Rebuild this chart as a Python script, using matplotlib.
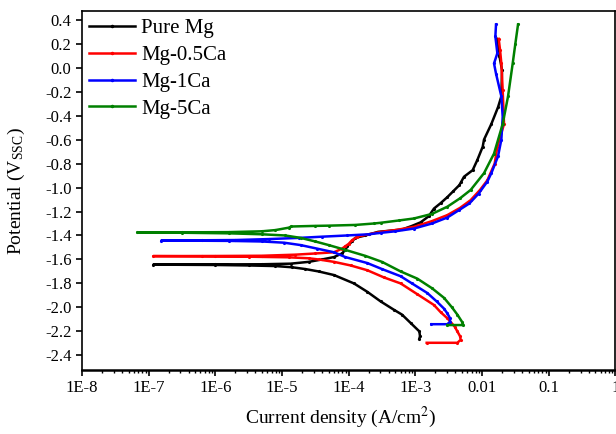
import numpy as np
import matplotlib
matplotlib.use("Agg")
import matplotlib.pyplot as plt
from matplotlib.ticker import FixedLocator, FixedFormatter, LogLocator, NullFormatter

plt.rcParams['font.family'] = ['Liberation Serif', 'DejaVu Serif']
plt.rcParams['mathtext.fontset'] = 'stix'

# Data: potential (V) and log10 of current density (A/cm2)
pure_V = [-2.26, -2.24, -2.20, -2.13, -2.06, -2.02, -1.95, -1.87, -1.80, -1.73, -1.70, -1.68, -1.665,
          -1.655, -1.65, -1.646, -1.643,
          -1.641, -1.640, -1.635, -1.62, -1.60, -1.58, -1.55, -1.52, -1.49, -1.45, -1.42, -1.40, -1.37,
          -1.35, -1.32, -1.29, -1.24, -1.175, -1.13, -1.08, -1.03, -0.98, -0.95, -0.91, -0.855, -0.77,
          -0.66, -0.60, -0.47, -0.33, -0.24, -0.02, 0.10, 0.24]
pure_logI = [-2.94, -2.93, -2.94, -3.07, -3.20, -3.32, -3.52, -3.72, -3.92, -4.22, -4.45, -4.65, -4.85,
             -5.1, -5.5, -6.0, -6.93,
             -6.0, -5.3, -4.87, -4.6, -4.4, -4.22, -4.1, -4.05, -4.02, -3.95, -3.9, -3.75, -3.56,
             -3.2, -3.05, -2.92, -2.8, -2.72, -2.62, -2.52, -2.43, -2.34, -2.31, -2.27, -2.14, -2.07,
             -1.99, -1.97, -1.86, -1.76, -1.71, -1.70, -1.74, -1.78]

ca05_V = [-2.295, -2.295, -2.27, -2.24, -2.20, -2.16, -2.09, -2.04, -1.98, -1.89, -1.80, -1.75, -1.69,
          -1.65, -1.62, -1.60, -1.59, -1.582, -1.577, -1.574, -1.572,
          -1.571, -1.569, -1.56, -1.55, -1.54, -1.51, -1.49, -1.47, -1.44, -1.41, -1.39, -1.37, -1.355,
          -1.328, -1.28, -1.23, -1.17, -1.105, -1.02, -0.94, -0.80, -0.66, -0.47, -0.19, 0.035, 0.15, 0.24]
ca05_logI = [-2.83, -2.37, -2.32, -2.33, -2.37, -2.41, -2.52, -2.62, -2.72, -2.97, -3.22, -3.47, -3.72,
             -3.97, -4.22, -4.45, -4.6, -4.9, -5.5, -6.2, -6.93,
             -6.0, -5.3, -4.8, -4.5, -4.22, -4.1, -4.05, -4.0, -3.95, -3.87, -3.7, -3.52, -3.3,
             -3.02, -2.75, -2.52, -2.33, -2.17, -2.03, -1.92, -1.81, -1.77, -1.67, -1.69, -1.71, -1.73, -1.75]

ca1_V = [-2.14, -2.14, -2.12, -2.09, -2.05, -2.01, -1.95, -1.88, -1.80, -1.74, -1.68, -1.63, -1.58,
         -1.54, -1.51, -1.48, -1.46, -1.45, -1.445, -1.442,
         -1.44, -1.438, -1.43, -1.42, -1.41, -1.40, -1.39, -1.378, -1.365, -1.342, -1.30, -1.25, -1.19,
         -1.133, -1.05, -0.95, -0.88, -0.74, -0.60, -0.41, -0.24, -0.05, 0.035, 0.12, 0.26, 0.36]
ca1_logI = [-2.76, -2.52, -2.48, -2.48, -2.52, -2.57, -2.68, -2.82, -3.05, -3.22, -3.5, -3.72, -4.05,
            -4.22, -4.47, -4.72, -4.97, -5.3, -5.8, -6.81,
            -6.2, -5.7, -5.2, -4.74, -4.4, -4.03, -3.7, -3.52, -3.3, -3.02, -2.75, -2.52, -2.35,
            -2.19, -2.05, -1.92, -1.86, -1.76, -1.71, -1.69, -1.71, -1.79, -1.82, -1.77, -1.80, -1.79]

ca5_V = [-2.147, -2.147, -2.12, -2.06, -2.00, -1.92, -1.84, -1.76, -1.70, -1.62, -1.57, -1.52, -1.48,
         -1.45, -1.42, -1.40, -1.39, -1.382, -1.377, -1.375,
         -1.374, -1.372, -1.365, -1.355, -1.335, -1.325, -1.32, -1.318, -1.312, -1.30, -1.294, -1.275,
         -1.258, -1.22, -1.16, -1.09, -1.02, -0.88, -0.717, -0.47, -0.24, 0.035, 0.20, 0.36]
ca5_logI = [-2.52, -2.28, -2.30, -2.37, -2.45, -2.57, -2.75, -2.97, -3.22, -3.5, -3.75, -4.05, -4.3,
            -4.5, -4.72, -4.95, -5.3, -5.8, -6.5, -7.17,
            -6.5, -5.8, -5.3, -5.1, -4.9, -4.86, -4.5, -4.3, -3.9, -3.62, -3.52, -3.25,
            -3.02, -2.75, -2.52, -2.33, -2.17, -1.97, -1.82, -1.69, -1.61, -1.54, -1.50, -1.46]

series = [
    ("Pure Mg", pure_V, pure_logI, "black"),
    ("Mg-0.5Ca", ca05_V, ca05_logI, "red"),
    ("Mg-1Ca", ca1_V, ca1_logI, "blue"),
    ("Mg-5Ca", ca5_V, ca5_logI, "green"),
]

xtick_vals = [1e-8, 1e-7, 1e-6, 1e-5, 1e-4, 1e-3, 1e-2, 1e-1, 1]
xtick_labels = ["1E-8", "1E-7", "1E-6", "1E-5", "1E-4", "1E-3", "0.01", "0.1", "1"]
ytick_vals = [0.4, 0.2, 0.0, -0.2, -0.4, -0.6, -0.8, -1.0, -1.2, -1.4, -1.6, -1.8, -2.0, -2.2, -2.4]

fig = plt.figure(figsize=(6.16, 4.34), dpi=100)
ax = fig.add_axes([0.133, 0.148, 0.866, 0.826])

for name, V, logI, c in series:
    I = 10.0 ** np.array(logI)
    ax.plot(I, V, color=c, lw=1.8, marker='.', markersize=2.5, label=name)

ax.set_xscale('log')
ax.set_xlim(1e-8, 1)
ax.set_ylim(-2.52, 0.47)
ax.xaxis.set_major_locator(FixedLocator(xtick_vals))
ax.xaxis.set_major_formatter(FixedFormatter(xtick_labels))
ax.xaxis.set_minor_locator(LogLocator(base=10, subs=np.arange(2, 10), numticks=20))
ax.xaxis.set_minor_formatter(NullFormatter())
ax.set_yticks(ytick_vals)
ax.set_yticklabels([f"{v:.1f}" for v in ytick_vals])

ax.tick_params(axis='both', which='major', direction='out', length=4, width=1.2, labelsize=12)
ax.tick_params(axis='x', which='minor', direction='out', length=2.5, width=1)
for s in ['left', 'top', 'right']:
    ax.spines[s].set_linewidth(1.2)
ax.spines['bottom'].set_linewidth(1.8)

ax.set_xlabel("Current density (A/cm$^{2}$)", fontsize=14, labelpad=6)
ax.xaxis.label.set_x(0.485)
ax.set_ylabel("Potential (V$_{\\mathregular{SSC}}$)", fontsize=14, labelpad=13)

leg = ax.legend(loc='upper left', frameon=False, fontsize=15, handlelength=2.2,
                handletextpad=0.3, labelspacing=0.35, borderaxespad=0.1, borderpad=0.25,
                markerscale=1.2)

fig.savefig("out.png", dpi=100)
